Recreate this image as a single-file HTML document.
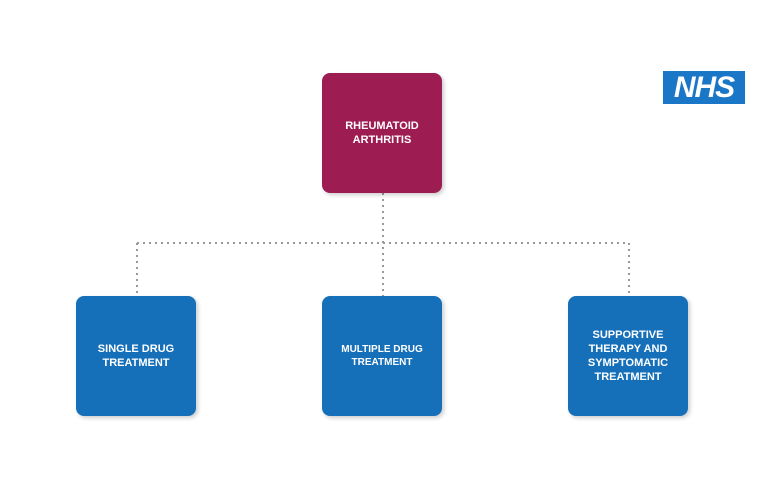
<!DOCTYPE html>
<html><head><style>
body{margin:0;width:765px;height:500px;background:#fff;position:relative;overflow:hidden;font-family:"Liberation Sans",sans-serif}
.b{position:absolute;width:120px;height:120px;border-radius:8px;color:#fff;font-weight:bold;font-size:11px;line-height:14px;display:flex;align-items:center;justify-content:center;text-align:center;box-shadow:2px 2px 4px rgba(0,0,0,.2)}
.m{background:#9d1d53}.u{background:#1670b9}
.nhs{position:absolute;left:663px;top:71px;width:82px;height:33px;background:#1a76c7;color:#fff;font-weight:bold;font-style:italic;font-size:30px;line-height:33px;text-align:center;letter-spacing:-1px}
</style></head><body>
<svg width="765" height="500" style="position:absolute;left:0;top:0">
<g stroke="#999" stroke-width="2" stroke-dasharray="2,4" fill="none">
<line x1="383" y1="193" x2="383" y2="296"/>
<line x1="137" y1="243" x2="629" y2="243"/>
<line x1="137" y1="243" x2="137" y2="296"/>
<line x1="629" y1="243" x2="629" y2="296"/>
</g></svg>
<div class="b m" style="left:322px;top:73px">RHEUMATOID<br>ARTHRITIS</div>
<div class="b u" style="left:76px;top:296px">SINGLE DRUG<br>TREATMENT</div>
<div class="b u" style="left:322px;top:296px;font-size:10px;line-height:13px">MULTIPLE DRUG<br>TREATMENT</div>
<div class="b u" style="left:568px;top:296px">SUPPORTIVE<br>THERAPY AND<br>SYMPTOMATIC<br>TREATMENT</div>
<div class="nhs">NHS</div>
</body></html>
